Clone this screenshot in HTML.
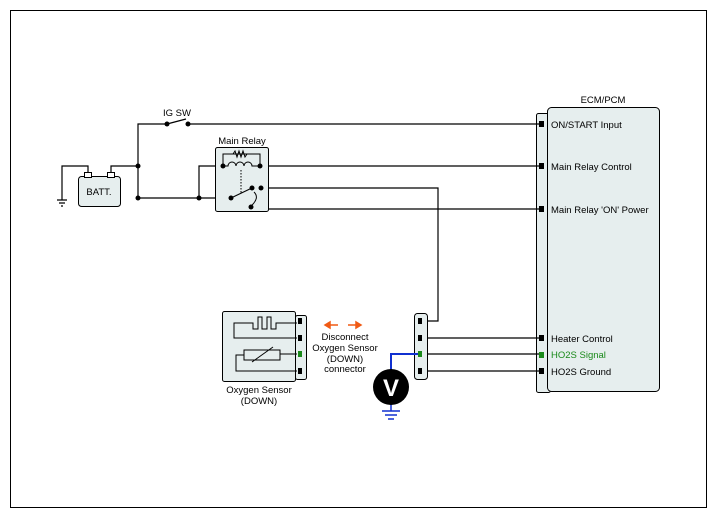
<!DOCTYPE html>
<html><head><meta charset="utf-8"><style>
body{margin:0;background:#fff}
svg{display:block;font-family:"Liberation Sans",sans-serif}
</style></head><body>
<svg width="717" height="518" viewBox="0 0 717 518" xmlns="http://www.w3.org/2000/svg">
<rect x="10.5" y="10.5" width="696" height="497" fill="#fff" stroke="#000"/>
<!-- ECM -->
<rect x="536.5" y="113.5" width="14" height="279" rx="2" fill="#e6eeee" stroke="#000"/>
<rect x="547.5" y="107.5" width="112" height="284" rx="4" fill="#e6eeee" stroke="#000"/>
<text x="603" y="103" font-size="9.5" text-anchor="middle">ECM/PCM</text>
<g font-size="9.5">
<text x="551" y="128">ON/START Input</text>
<text x="551" y="170">Main Relay Control</text>
<text x="551" y="213">Main Relay 'ON' Power</text>
<text x="551" y="342">Heater Control</text>
<text x="551" y="358" fill="#1a8a1a">HO2S Signal</text>
<text x="551" y="375">HO2S Ground</text>
</g>
<g fill="#000">
<rect x="539" y="121" width="5" height="6"/><rect x="539" y="163" width="5" height="6"/><rect x="539" y="206" width="5" height="6"/>
<rect x="539" y="335" width="5" height="6"/><rect x="539" y="352" width="5" height="6" fill="#1a8a1a"/><rect x="539" y="368" width="5" height="6"/>
</g>
<!-- wires -->
<g fill="none" stroke="#000" stroke-width="1.2">
<path d="M138 198 V124 H167 M188 124 H539"/>
<path d="M167 124 L186 119"/>
<path d="M138 198 H231"/>
<path d="M199 198 V166 H223"/>
<path d="M111 176 V166 H138"/>
<path d="M88 176 V166 H62 V200"/>
<path d="M57 200 H67 M59 203 H65 M61 206 H63"/>
<path d="M260 166 H539"/>
<path d="M261 188 H438 V321 H427"/>
<path d="M261 188 V209 H539"/>
<path d="M427 338 H539 M427 354 H539 M427 371 H539"/>
</g>
<!-- battery -->
<rect x="78.5" y="176.5" width="42" height="30" rx="3" fill="#e6eeee" stroke="#000"/>
<rect x="84.5" y="172.5" width="7" height="5" fill="#fff" stroke="#000"/>
<rect x="107.5" y="172.5" width="7" height="5" fill="#fff" stroke="#000"/>
<text x="99" y="195" font-size="9.5" text-anchor="middle">BATT.</text>
<text x="177" y="116" font-size="9.5" text-anchor="middle">IG SW</text>
<!-- relay -->
<rect x="215.5" y="147.5" width="53" height="64" rx="2" fill="#e6eeee" stroke="#000"/>
<text x="242" y="144" font-size="9.5" text-anchor="middle">Main Relay</text>
<g fill="none" stroke="#000" stroke-width="1">
<path d="M223 166 V154 H260 V166"/>
<path d="M233 154 l2 -3 l2 6 l2 -6 l2 6 l2 -6 l2 6 l2 -3"/>
<path d="M223 166 H228 a4 4 0 0 1 8 0 a4 4 0 0 1 8 0 a4 4 0 0 1 8 0 H260"/>
<path d="M241 170 V193" stroke-dasharray="1.5 1.5"/>
<path d="M231 198 L254 187"/>
<path d="M254 192 q6 6 -3 14"/>
</g>
<g fill="#000">
<circle cx="138" cy="166" r="2.5"/><circle cx="138" cy="198" r="2.5"/><circle cx="199" cy="198" r="2.5"/>
<circle cx="167" cy="124" r="2.5"/><circle cx="188" cy="124" r="2.5"/>
<circle cx="223" cy="166" r="2.5"/><circle cx="260" cy="166" r="2.5"/>
<circle cx="231" cy="198" r="2.5"/><circle cx="252" cy="188" r="2.5"/><circle cx="261" cy="188" r="2.5"/><circle cx="251" cy="207" r="2.5"/>
</g>
<!-- oxygen sensor -->
<rect x="295.5" y="315.5" width="11" height="64" rx="2" fill="#e6eeee" stroke="#000"/>
<rect x="222.5" y="311.5" width="73" height="70" rx="2" fill="#e6eeee" stroke="#000"/>
<g fill="none" stroke="#000" stroke-width="1">
<path d="M297 323 H276 V329 H271 V317 H267 V329 H262 V317 H258 V329 H253 V323 H234 V338 H297"/>
<path d="M297 354 H280 V350 H244 V360 H280 V354 M244 355 H236 V371 H297"/>
<path d="M252 362 L273 347"/>
</g>
<g fill="#000"><rect x="298" y="318" width="4" height="6"/><rect x="298" y="335" width="4" height="6"/><rect x="298" y="351" width="4" height="6" fill="#1a8a1a"/><rect x="298" y="368" width="4" height="6"/></g>
<text x="259" y="393" font-size="9.5" text-anchor="middle">Oxygen Sensor</text>
<text x="259" y="404" font-size="9.5" text-anchor="middle">(DOWN)</text>
<!-- arrows -->
<g stroke="#f05a14" stroke-width="1.5" fill="#f05a14">
<path d="M328 325 H338 M348 325 H358"/>
<path d="M325 325 l5 -3 v6z M361 325 l-5 -3 v6z"/>
</g>
<g font-size="9.5" text-anchor="middle">
<text x="345" y="340">Disconnect</text><text x="345" y="351">Oxygen Sensor</text><text x="345" y="362">(DOWN)</text><text x="345" y="372">connector</text>
</g>
<!-- right connector -->
<rect x="414.5" y="313.5" width="13" height="66" rx="3" fill="#e6eeee" stroke="#000"/>
<g fill="#000"><rect x="418" y="318" width="4" height="6"/><rect x="418" y="335" width="4" height="6"/><rect x="418" y="351" width="4" height="6" fill="#1a8a1a"/><rect x="418" y="368" width="4" height="6"/></g>
<path d="M418 354 H391 V380" fill="none" stroke="#1030d0" stroke-width="2"/>
<path d="M391 400 V411 M382 411 H400 M385 415 H397 M388 419 H394" fill="none" stroke="#1030d0" stroke-width="1.5"/>
<circle cx="391" cy="387" r="18" fill="#000"/>
<text x="391" y="396" font-size="24" font-weight="bold" fill="#fff" text-anchor="middle">V</text>
</svg>
</body></html>
